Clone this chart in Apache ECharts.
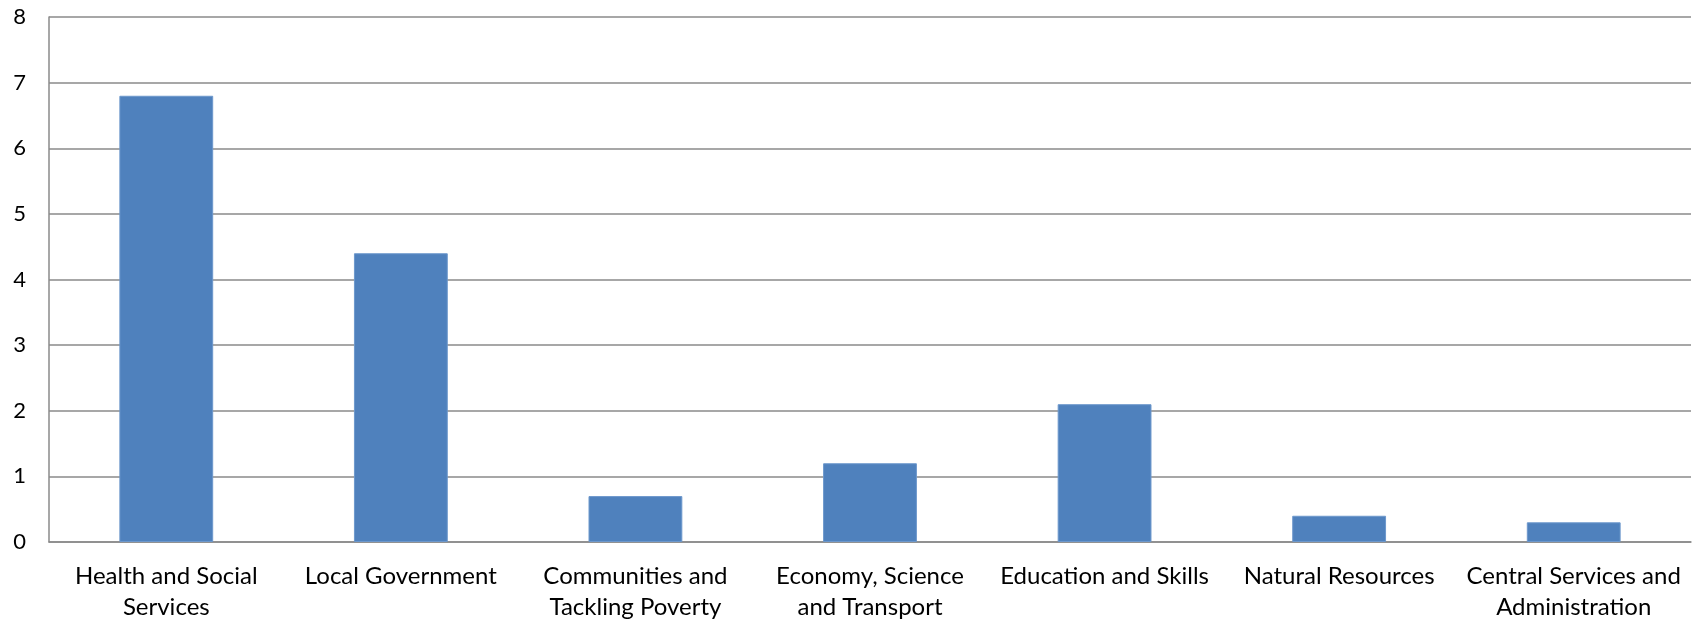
<!DOCTYPE html>
<html>
<head>
<meta charset="utf-8">
<script src="https://cdn.jsdelivr.net/npm/echarts@6/dist/echarts.min.js"></script>
<style>
  html, body { margin: 0; padding: 0; background: #ffffff; }
  #chart { width: 1700px; height: 622px; }
</style>
</head>
<body>
<div id="chart"></div>
<script>
// Spending areas and their values
const categories = [
  'Health and Social\nServices',
  'Local Government',
  'Communities and\nTackling Poverty',
  'Economy, Science\nand Transport',
  'Education and Skills',
  'Natural Resources',
  'Central Services and\nAdministration'
];
const values = [6.8, 4.4, 0.7, 1.2, 2.1, 0.4, 0.3];
const yTicks = { min: 0, max: 8, interval: 1 };

const fontFamily = 'Lato, "Open Sans", sans-serif';
const gridColor = '#8a8a8a';

const chart = echarts.init(document.getElementById('chart'), null, { renderer: 'canvas' });
chart.setOption({
  animation: false,
  backgroundColor: '#ffffff',
  grid: { left: 49, right: 9, top: 17, bottom: 80, containLabel: false, outerBoundsMode: 'none' },
  xAxis: {
    type: 'category',
    data: categories,
    axisLine: { show: true, lineStyle: { color: gridColor, width: 1.5 } },
    axisTick: { show: false },
    axisLabel: {
      interval: 0,
      color: '#000000',
      fontFamily: fontFamily,
      fontSize: 24,
      lineHeight: 31,
      margin: 19
    }
  },
  yAxis: {
    type: 'value',
    min: yTicks.min,
    max: yTicks.max,
    interval: yTicks.interval,
    axisLine: { show: true, lineStyle: { color: gridColor, width: 1.5 } },
    axisTick: { show: false },
    splitLine: { show: true, lineStyle: { color: gridColor, width: 1.5 } },
    axisLabel: {
      color: '#000000',
      fontFamily: fontFamily,
      fontSize: 22,
      margin: 23
    }
  },
  series: [{
    type: 'bar',
    data: values,
    barWidth: '40%',
    itemStyle: { color: '#4f81bd', borderColor: '#6d98cc', borderWidth: 1 }
  }]
});
</script>
</body>
</html>
